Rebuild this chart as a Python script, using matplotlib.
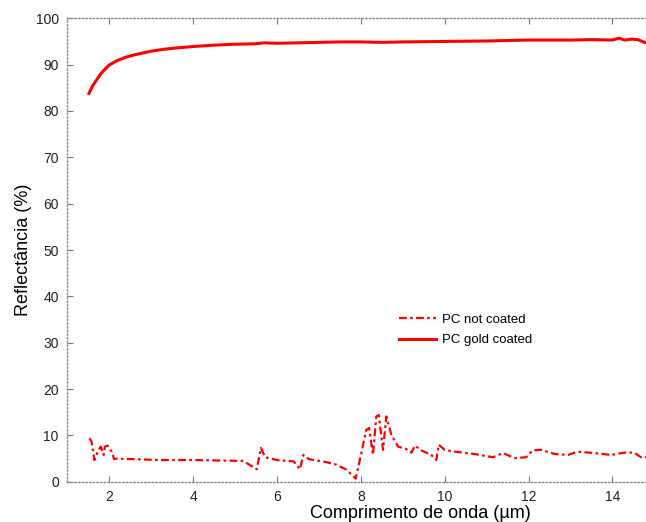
import matplotlib
matplotlib.use("Agg")
import matplotlib.pyplot as plt
import numpy as np

plt.rcParams['font.family'] = ['Liberation Sans', 'DejaVu Sans']

# PC gold coated
wl_gold = [1.52, 1.6, 1.7, 1.8, 1.9, 2.0, 2.2, 2.4, 2.6, 2.8, 3.0, 3.3, 3.6,
           4.0, 4.5, 5.0, 5.5, 5.7, 6.0, 6.5, 7.0, 7.5, 8.0, 8.5, 9.0, 10.0,
           11.0, 12.0, 13.0, 13.5, 14.0, 14.15, 14.3, 14.45, 14.6, 14.8]
r_gold = [83.8, 85.3, 86.7, 88.0, 89.0, 89.9, 90.9, 91.6, 92.1, 92.5, 92.9,
          93.3, 93.6, 93.9, 94.2, 94.4, 94.5, 94.7, 94.6, 94.7, 94.8, 94.9,
          94.9, 94.8, 94.9, 95.0, 95.1, 95.3, 95.3, 95.4, 95.3, 95.7, 95.3,
          95.5, 95.4, 94.7]

# PC not coated
wl_bare = [1.53, 1.58, 1.65, 1.73, 1.8, 1.87, 1.9, 1.97, 2.06, 2.12, 2.18,
           3.2, 4.0, 5.2, 5.52, 5.62, 5.72, 6.0, 6.4, 6.55, 6.63, 6.76, 7.2,
           7.42, 7.66, 7.88, 8.02, 8.13, 8.2, 8.29, 8.37, 8.43, 8.53, 8.61,
           8.73, 8.89, 9.13, 9.21, 9.29, 9.44, 9.68, 9.8, 9.86, 10.0, 10.24,
           10.71, 11.15, 11.39, 11.67, 11.94, 12.1, 12.3, 12.62, 12.94, 13.17,
           13.57, 13.97, 14.29, 14.52, 14.68, 14.8]
r_bare = [9.4, 8.7, 4.7, 6.5, 7.6, 5.8, 7.6, 7.8, 6.5, 4.9, 5.0,
          4.7, 4.7, 4.5, 2.7, 7.3, 5.3, 4.7, 4.4, 2.7, 5.8, 4.9, 4.2,
          3.7, 2.6, 0.7, 6.5, 11.2, 11.6, 5.8, 14.1, 14.4, 6.9, 14.1,
          10.1, 7.6, 6.9, 6.3, 7.8, 6.8, 5.8, 4.7, 8.0, 6.9, 6.5,
          6.0, 5.3, 6.2, 5.1, 5.3, 6.8, 6.9, 6.0, 5.8, 6.5,
          6.2, 5.8, 6.3, 6.3, 5.3, 5.3]

fig = plt.figure(figsize=(6.46, 5.22), dpi=100)
ax = fig.add_axes([0.104, 0.077, 0.896, 0.888])

ax.plot(wl_bare, r_bare, color='red', lw=1.6, ls=(0, (3.5, 1.5, 1.2, 1.5)),
        label='PC not coated')
ax.plot(wl_gold, r_gold, color='red', lw=2.2, ls='-', label='PC gold coated')

ax.set_xlim(1, 14.8)
ax.set_ylim(0, 100)
ax.set_xticks(np.arange(2, 15, 2))
ax.set_yticks(np.arange(0, 101, 10))

for s in ax.spines.values():
    s.set_color('#888888')
    s.set_linestyle(':')
    s.set_linewidth(1.0)
ax.spines['right'].set_visible(False)

ax.tick_params(direction='in', length=4, color='#777777', top=True,
               labelsize=10, labelcolor='#222222', pad=6)

ax.set_xlabel('Comprimento de onda (µm)', fontsize=13)
ax.xaxis.set_label_coords(0.61, -0.05)
ax.set_ylabel('Reflectância (%)', fontsize=13, labelpad=3)

ax.legend(loc='upper left', bbox_to_anchor=(0.552, 0.388), frameon=False,
          fontsize=9.5, handlelength=2.8, handletextpad=0.5, labelspacing=0.6)

fig.savefig('out.png', dpi=100)
